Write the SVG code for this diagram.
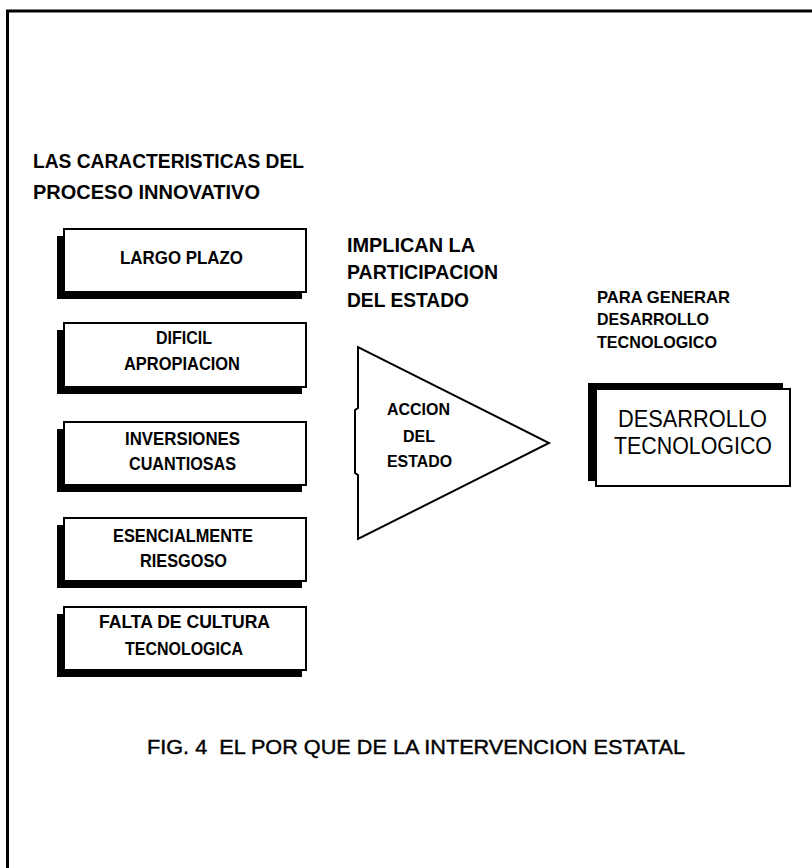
<svg xmlns="http://www.w3.org/2000/svg" width="812" height="868" viewBox="0 0 812 868">
<style>
.frame{fill:none;stroke:#000;stroke-width:3}
.shadow{fill:#000}
.box{fill:#fff;stroke:#000;stroke-width:2}
.tri{fill:#fff;stroke:#000;stroke-width:2;stroke-linejoin:miter}
text{font-family:"Liberation Sans",Arial,sans-serif;fill:#000}
.h{font-size:21px;font-weight:bold}
.b{font-size:18px;font-weight:bold}
.s{font-size:16px;font-weight:bold}
.p{font-size:17px;font-weight:bold}
.d{font-size:23px;font-weight:normal}
.c{font-size:20px;font-weight:normal;stroke:#000;stroke-width:0.4}
</style>
<rect width="812" height="868" fill="#fff"/>
<path class="frame" d="M7.5,868 L7.5,11 L812,11"/>

<g id="title">
<text class="h" x="33" y="168" textLength="271" lengthAdjust="spacingAndGlyphs">LAS CARACTERISTICAS DEL</text>
<text class="h" x="33" y="199" textLength="227" lengthAdjust="spacingAndGlyphs">PROCESO INNOVATIVO</text>
</g>

<g id="largo-plazo">
<rect class="shadow" x="57" y="236" width="245" height="63"/>
<rect class="box" x="64" y="229" width="242" height="63"/>
<text class="b" x="120" y="264" textLength="123" lengthAdjust="spacingAndGlyphs">LARGO PLAZO</text>
</g>

<g id="dificil-apropiacion">
<rect class="shadow" x="57" y="330" width="245" height="64"/>
<rect class="box" x="64" y="323" width="242" height="64"/>
<text class="b" x="156" y="344" textLength="56" lengthAdjust="spacingAndGlyphs">DIFICIL</text>
<text class="b" x="124" y="370" textLength="116" lengthAdjust="spacingAndGlyphs">APROPIACION</text>
</g>

<g id="inversiones-cuantiosas">
<rect class="shadow" x="57" y="429" width="245" height="63"/>
<rect class="box" x="64" y="422" width="242" height="63"/>
<text class="b" x="125" y="445" textLength="115" lengthAdjust="spacingAndGlyphs">INVERSIONES</text>
<text class="b" x="129" y="470" textLength="107" lengthAdjust="spacingAndGlyphs">CUANTIOSAS</text>
</g>

<g id="esencialmente-riesgoso">
<rect class="shadow" x="57" y="525" width="245" height="63"/>
<rect class="box" x="64" y="518" width="242" height="63"/>
<text class="b" x="113" y="542" textLength="140" lengthAdjust="spacingAndGlyphs">ESENCIALMENTE</text>
<text class="b" x="140" y="567" textLength="87" lengthAdjust="spacingAndGlyphs">RIESGOSO</text>
</g>

<g id="falta-cultura">
<rect class="shadow" x="57" y="614" width="245" height="63"/>
<rect class="box" x="64" y="607" width="242" height="63"/>
<text class="b" x="99" y="628" textLength="171" lengthAdjust="spacingAndGlyphs">FALTA DE CULTURA</text>
<text class="b" x="125" y="655" textLength="118" lengthAdjust="spacingAndGlyphs">TECNOLOGICA</text>
</g>

<g id="implican-label">
<text class="h" x="347" y="252" textLength="128" lengthAdjust="spacingAndGlyphs">IMPLICAN LA</text>
<text class="h" x="347" y="279" textLength="151" lengthAdjust="spacingAndGlyphs">PARTICIPACION</text>
<text class="h" x="347" y="307" textLength="122" lengthAdjust="spacingAndGlyphs">DEL ESTADO</text>
</g>

<g id="accion-del-estado">
<path class="tri" d="M358,347 L358,408 L355,410 L355,473 L358,475 L358,539 L549,443 Z"/>
<text class="s" x="387" y="415" textLength="63" lengthAdjust="spacingAndGlyphs">ACCION</text>
<text class="s" x="403" y="442" textLength="32" lengthAdjust="spacingAndGlyphs">DEL</text>
<text class="s" x="387" y="467" textLength="65" lengthAdjust="spacingAndGlyphs">ESTADO</text>
</g>

<g id="para-generar-label">
<text class="p" x="597" y="303" textLength="133" lengthAdjust="spacingAndGlyphs">PARA GENERAR</text>
<text class="p" x="597" y="325" textLength="112" lengthAdjust="spacingAndGlyphs">DESARROLLO</text>
<text class="p" x="597" y="348" textLength="120" lengthAdjust="spacingAndGlyphs">TECNOLOGICO</text>
</g>

<g id="desarrollo-tecnologico">
<rect class="shadow" x="588" y="383" width="195" height="98"/>
<rect class="box" x="596" y="389" width="194" height="97"/>
<text class="d" x="618" y="427" textLength="149" lengthAdjust="spacingAndGlyphs">DESARROLLO</text>
<text class="d" x="614" y="454" textLength="158" lengthAdjust="spacingAndGlyphs">TECNOLOGICO</text>
</g>

<g id="connectors"></g>

<g id="caption">
<text class="c" x="147" y="754" textLength="538" lengthAdjust="spacingAndGlyphs">FIG. 4&#160; EL POR QUE DE LA INTERVENCION ESTATAL</text>
</g>
</svg>
